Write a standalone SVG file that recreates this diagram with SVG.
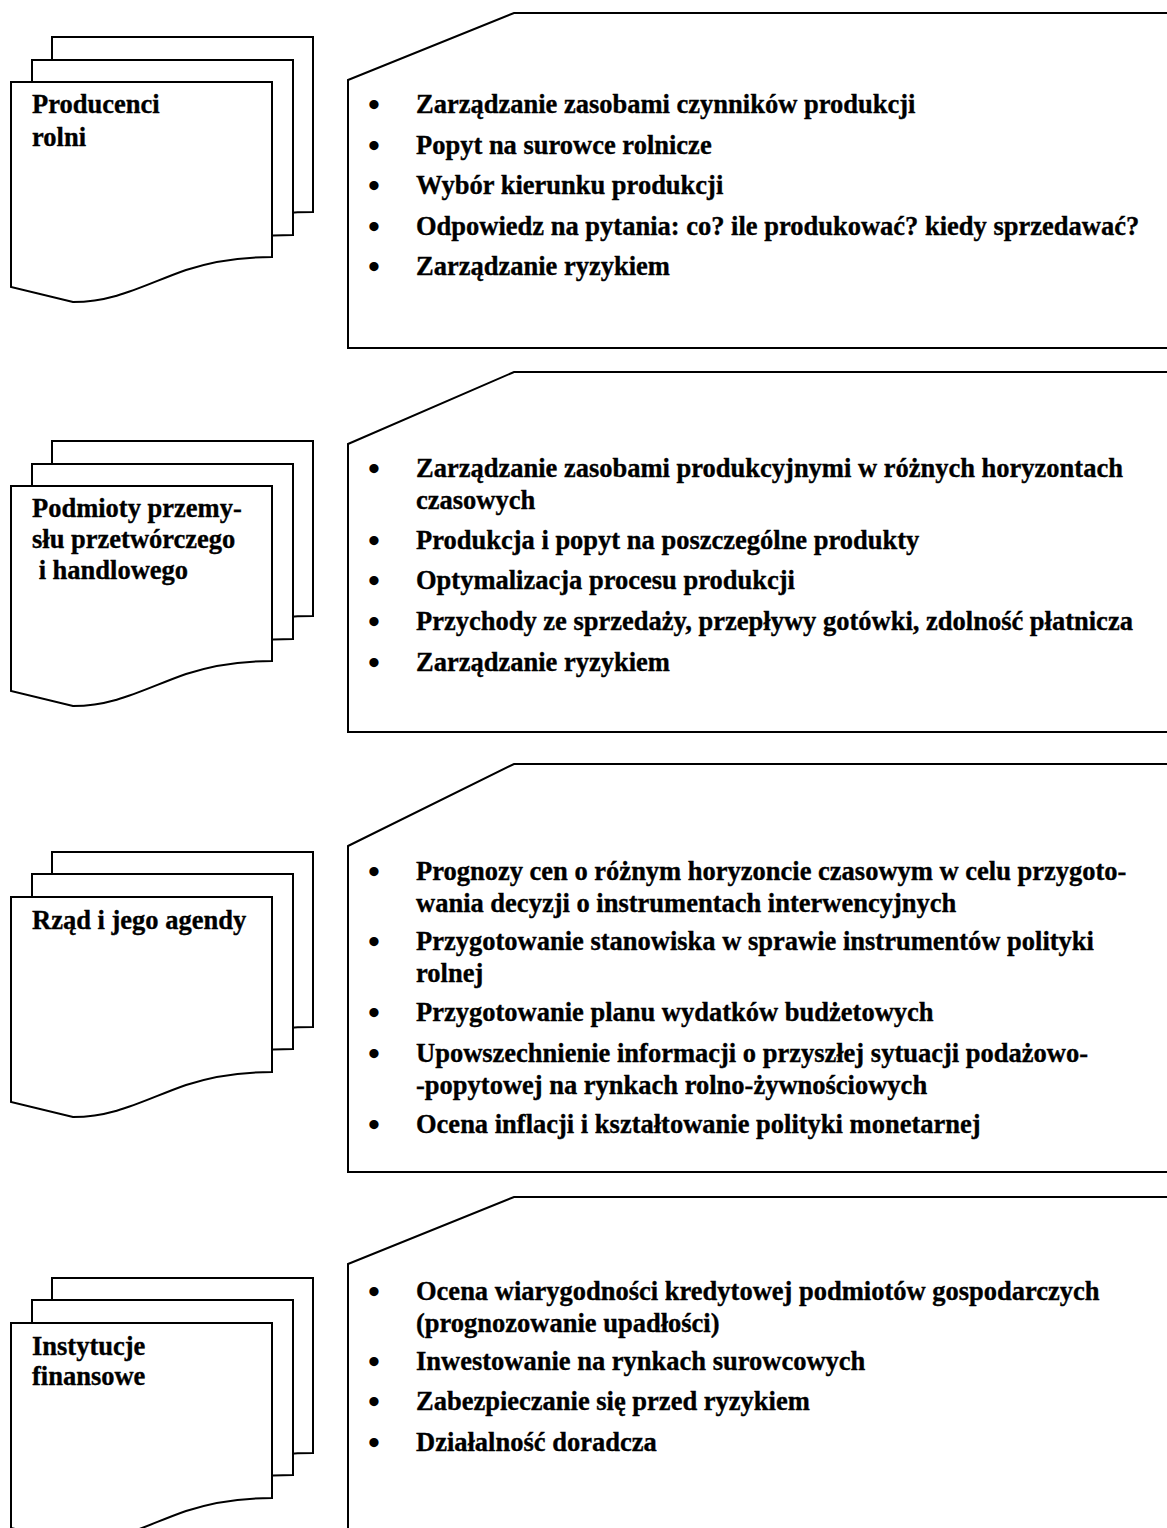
<svg xmlns="http://www.w3.org/2000/svg" xmlns:xlink="http://www.w3.org/1999/xlink" width="1167" height="1528" viewBox="0 0 1167 1528">
<style>
.sh{fill:#fff;stroke:#000;stroke-width:2;stroke-linejoin:miter}
.t{font-family:"Liberation Serif","Times New Roman",serif;font-weight:bold;font-size:26.5px;fill:#000;stroke:#000;stroke-width:0.35}
.b{font-family:"Liberation Serif","Times New Roman",serif;font-weight:bold;font-size:34px;fill:#000;text-anchor:middle}
</style>
<defs>
<path id="doc" d="M0,0 H261 V175 C235,175 205,178 175,188 C135,202 105,220 62,220 L0,205 Z"/>
</defs>
<rect width="1167" height="1528" fill="#fff"/>
<g id="connectors"></g>

<!-- Section 1 -->
<g id="doc1">
<use xlink:href="#doc" class="sh" x="52" y="37"/>
<use xlink:href="#doc" class="sh" x="32" y="60"/>
<use xlink:href="#doc" class="sh" x="11" y="82"/>
<text class="t" x="32" y="113">Producenci</text>
<text class="t" x="32" y="146">rolni</text>
</g>
<g id="card1">
<path class="sh" d="M348,80 L514,13 H1180 V348 H348 Z"/>
<text class="b" x="374" y="116">•</text><text class="t" x="416" y="113">Zarządzanie zasobami czynników produkcji</text>
<text class="b" x="374" y="157">•</text><text class="t" x="416" y="154">Popyt na surowce rolnicze</text>
<text class="b" x="374" y="197">•</text><text class="t" x="416" y="194">Wybór kierunku produkcji</text>
<text class="b" x="374" y="238">•</text><text class="t" x="416" y="235">Odpowiedz na pytania: co? ile produkować? kiedy sprzedawać?</text>
<text class="b" x="374" y="278">•</text><text class="t" x="416" y="275">Zarządzanie ryzykiem</text>
</g>

<!-- Section 2 -->
<g id="doc2">
<use xlink:href="#doc" class="sh" x="52" y="441"/>
<use xlink:href="#doc" class="sh" x="32" y="464"/>
<use xlink:href="#doc" class="sh" x="11" y="486"/>
<text class="t" x="32" y="517">Podmioty przemy-</text>
<text class="t" x="32" y="548">słu przetwórczego</text>
<text class="t" x="32" y="579" xml:space="preserve"> i handlowego</text>
</g>
<g id="card2">
<path class="sh" d="M348,444 L514,372 H1180 V732 H348 Z"/>
<text class="b" x="374" y="480">•</text><text class="t" x="416" y="477">Zarządzanie zasobami produkcyjnymi w różnych horyzontach</text>
<text class="t" x="416" y="509">czasowych</text>
<text class="b" x="374" y="552">•</text><text class="t" x="416" y="549">Produkcja i popyt na poszczególne produkty</text>
<text class="b" x="374" y="592">•</text><text class="t" x="416" y="589">Optymalizacja procesu produkcji</text>
<text class="b" x="374" y="633">•</text><text class="t" x="416" y="630">Przychody ze sprzedaży, przepływy gotówki, zdolność płatnicza</text>
<text class="b" x="374" y="674">•</text><text class="t" x="416" y="671">Zarządzanie ryzykiem</text>
</g>

<!-- Section 3 -->
<g id="doc3">
<use xlink:href="#doc" class="sh" x="52" y="852"/>
<use xlink:href="#doc" class="sh" x="32" y="874"/>
<use xlink:href="#doc" class="sh" x="11" y="897"/>
<text class="t" x="32" y="929">Rząd i jego agendy</text>
</g>
<g id="card3">
<path class="sh" d="M348,846 L514,764 H1180 V1172 H348 Z"/>
<text class="b" x="374" y="883">•</text><text class="t" x="416" y="880">Prognozy cen o różnym horyzoncie czasowym w celu przygoto-</text>
<text class="t" x="416" y="912">wania decyzji o instrumentach interwencyjnych</text>
<text class="b" x="374" y="953">•</text><text class="t" x="416" y="950">Przygotowanie stanowiska w sprawie instrumentów polityki</text>
<text class="t" x="416" y="982">rolnej</text>
<text class="b" x="374" y="1024">•</text><text class="t" x="416" y="1021">Przygotowanie planu wydatków budżetowych</text>
<text class="b" x="374" y="1065">•</text><text class="t" x="416" y="1062">Upowszechnienie informacji o przyszłej sytuacji podażowo-</text>
<text class="t" x="416" y="1094">-popytowej na rynkach rolno-żywnościowych</text>
<text class="b" x="374" y="1136">•</text><text class="t" x="416" y="1133">Ocena inflacji i kształtowanie polityki monetarnej</text>
</g>

<!-- Section 4 -->
<g id="doc4">
<use xlink:href="#doc" class="sh" x="52" y="1278"/>
<use xlink:href="#doc" class="sh" x="32" y="1300"/>
<use xlink:href="#doc" class="sh" x="11" y="1323"/>
<text class="t" x="32" y="1355">Instytucje</text>
<text class="t" x="32" y="1385">finansowe</text>
</g>
<g id="card4">
<path class="sh" d="M348,1264 L514,1197 H1180 V1560 H348 Z"/>
<text class="b" x="374" y="1303">•</text><text class="t" x="416" y="1300">Ocena wiarygodności kredytowej podmiotów gospodarczych</text>
<text class="t" x="416" y="1332">(prognozowanie upadłości)</text>
<text class="b" x="374" y="1373">•</text><text class="t" x="416" y="1370">Inwestowanie na rynkach surowcowych</text>
<text class="b" x="374" y="1413">•</text><text class="t" x="416" y="1410">Zabezpieczanie się przed ryzykiem</text>
<text class="b" x="374" y="1454">•</text><text class="t" x="416" y="1451">Działalność doradcza</text>
</g>
</svg>
